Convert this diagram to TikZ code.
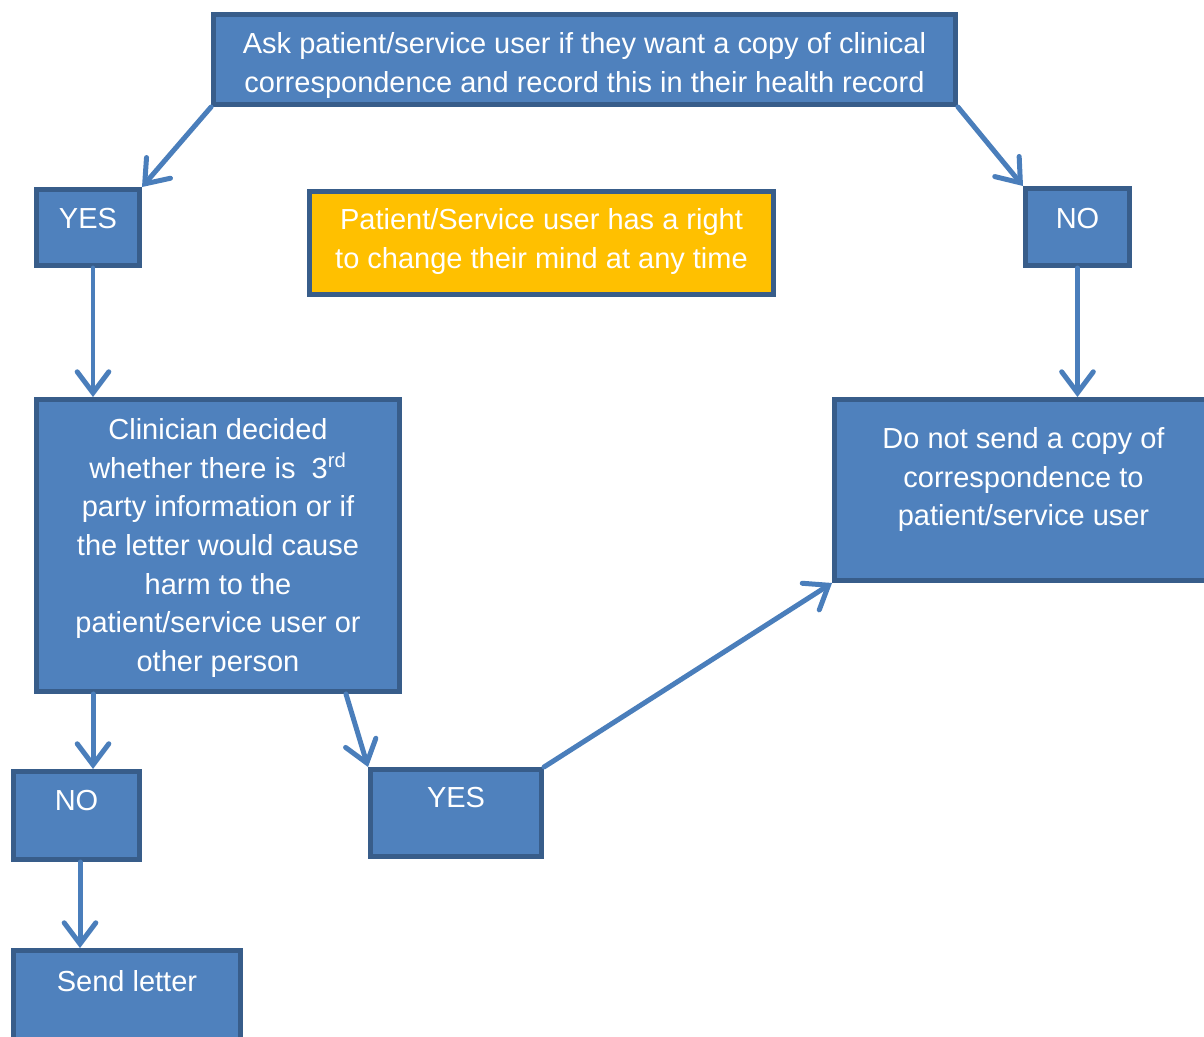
\documentclass[tikz,border=0pt]{standalone}
\usepackage{fontspec}
\setmainfont{Liberation Sans}
\usetikzlibrary{arrows.meta, positioning, calc}

\definecolor{boxfill}{HTML}{4F81BD}
\definecolor{boxline}{HTML}{385D8A}
\definecolor{notefill}{HTML}{FFC000}
\definecolor{arrowcol}{HTML}{4A7EBB}

\begin{document}
\begin{tikzpicture}[x=0.02cm, y=-0.02cm, line width=0.1cm, font=\fontsize{16.5}{22}\selectfont]
	\tikzset{
		flowbox/.style={draw=boxline, fill=boxfill, rectangle, inner sep=0pt},
		notebox/.style={flowbox, fill=notefill},
		boxtext/.style={anchor=north, align=center, text=white, inner sep=0pt, execute at begin node=\strut},
		arrow/.style={color=arrowcol, line cap=round, -{Straight Barb[length=12pt, width=18pt, line cap=round]}}
	}
	\useasboundingbox (0,0) rectangle (1204,1036);
	% boxes
	\node[flowbox, minimum width=14.84cm, minimum height=1.80cm] (ask) at (584.5,59.5) {};
	\node[flowbox, minimum width=2.06cm, minimum height=1.52cm] (yesA) at (88,227.5) {};
	\node[notebox, minimum width=9.28cm, minimum height=2.06cm] (note) at (541.5,243) {};
	\node[flowbox, minimum width=2.08cm, minimum height=1.54cm] (noA) at (1077.5,227) {};
	\node[flowbox, minimum width=7.26cm, minimum height=5.84cm] (clin) at (218,545.5) {};
	\node[flowbox, minimum width=7.56cm, minimum height=3.62cm] (nosend) at (1023.5,490) {};
	\node[flowbox, minimum width=2.52cm, minimum height=1.76cm] (noB) at (76.5,815.5) {};
	\node[flowbox, minimum width=3.42cm, minimum height=1.74cm] (yesB) at (456,813) {};
	\node[flowbox, minimum width=4.54cm, minimum height=2.14cm] (send) at (127,1004) {};
	% texts (first line near the box top)
	\node[boxtext] (askT) at ([yshift=-0.36cm]ask.north) {Ask patient/service user if they want a copy of clinical\\correspondence and record this in their health record};
	\node[boxtext] (yesAT) at ([yshift=-0.24cm]yesA.north) {YES};
	\node[boxtext] (noteT) at ([yshift=-0.34cm]note.north) {Patient/Service user has a right\\to change their mind at any time};
	\node[boxtext] (noAT) at ([yshift=-0.26cm]noA.north) {NO};
	\node[boxtext] (clinT) at ([yshift=-0.38cm]clin.north) {Clinician decided\\whether there is\ \ 3\textsuperscript{rd}\\party information or if\\the letter would cause\\harm to the\\patient/service user or\\other person};
	\node[boxtext] (nosendT) at ([yshift=-0.56cm]nosend.north) {Do not send a copy of\\correspondence to\\patient/service user};
	\node[boxtext] (noBT) at ([yshift=-0.24cm]noB.north) {NO};
	\node[boxtext] (yesBT) at ([yshift=-0.22cm]yesB.north) {YES};
	\node[boxtext] (sendT) at ([yshift=-0.28cm]send.north) {Send letter};
	% arrows
	\path[arrow]
		(ask.south west) edge (yesA.north east)
		(ask.south east) edge (noA.north west)
		([xshift=0.1cm]yesA.south) edge ([xshift=0.1cm]yesA.south |- clin.north)
		(noA.south) edge (noA.south |- nosend.north)
		([xshift=1.18cm]clin.south west) edge ([xshift=1.18cm]clin.south west |- noB.north)
		([xshift=-1.12cm]clin.south east) edge (yesB.north west)
		([xshift=0.07cm]noB.south) edge ([xshift=0.07cm]noB.south |- send.north)
		(yesB.north east) edge (nosend.south west);
\end{tikzpicture}
\end{document}
